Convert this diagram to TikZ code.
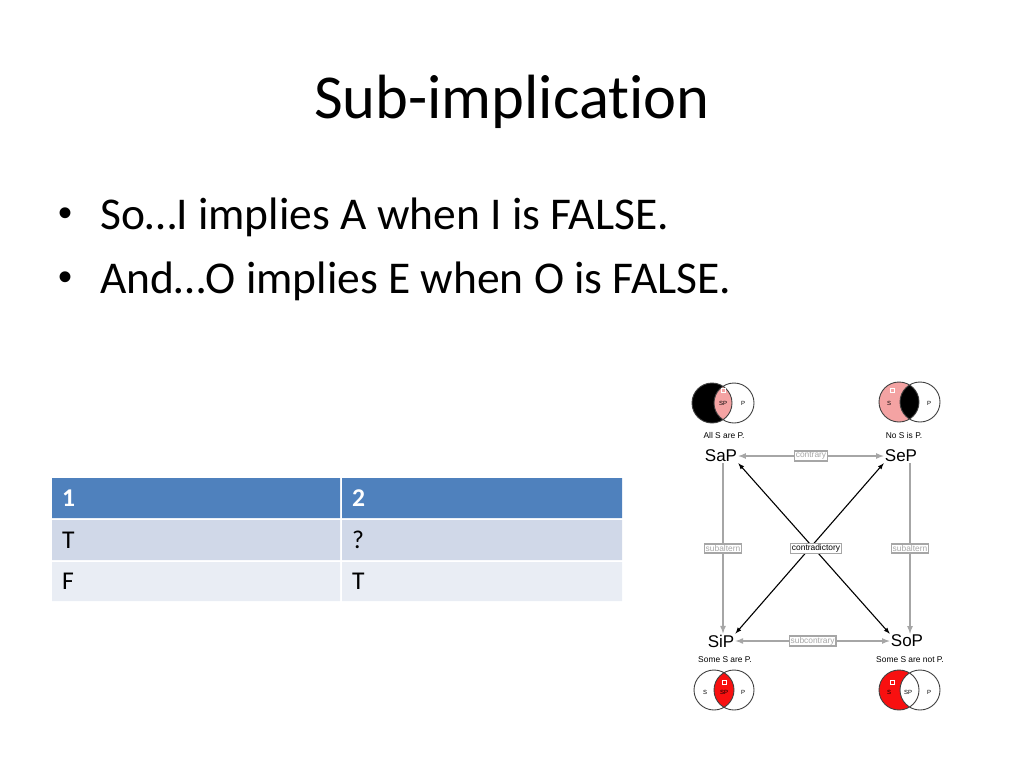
\documentclass[tikz,border=0pt]{standalone}
\usepackage{fontspec}
\setmainfont{Carlito}[Ligatures=NoCommon]
\newfontfamily\arialf{Liberation Sans}
\usetikzlibrary{positioning}
\definecolor{hdblue}{HTML}{4F81BD}
\definecolor{rowa}{HTML}{D0D8E8}
\definecolor{rowb}{HTML}{E9EDF4}
\definecolor{vpink}{HTML}{F4A3A3}
\definecolor{vred}{HTML}{F81010}
\definecolor{relgray}{HTML}{A6A6A6}
\tikzset{
  stmt/.style={font=\arialf\fontsize{17}{19}\selectfont, inner sep=1pt},
  gloss/.style={font=\arialf\fontsize{8.4}{10}\selectfont, inner sep=0pt},
  rel/.style={draw=relgray, fill=white, font=\arialf\fontsize{8.4}{10}\selectfont, inner sep=1.3pt},
  vtxt/.style={font=\arialf\fontsize{6}{7}\selectfont, inner sep=0pt},
  vline/.style={line width=0.9pt, black!75},
  cell/.style={anchor=west, inner sep=0pt, font=\fontsize{25.6}{28}\selectfont},
  dot/.style={anchor=base west, inner sep=0pt, font=\arialf\fontsize{40}{44}\selectfont}
}
\begin{document}
\begin{tikzpicture}[x=1pt,y=-1pt,>=latex]
\useasboundingbox (0,0) rectangle (1024,768);
% title and bullets
\node[anchor=base] (title) at (512,118) {\fontsize{62.5}{70}\selectfont Sub-implication};
\node[dot] (d1) at (58,226) {•};
\node[anchor=base west, inner sep=0pt] (b1) at (100,229) {\fontsize{45.5}{52}\selectfont So…I implies A when I is FALSE.};
\node[dot] (d2) at (58,290) {•};
\node[anchor=base west, inner sep=0pt] (b2) at (100,293) {\fontsize{45.5}{52}\selectfont And…O implies E when O is FALSE.};

% table
\fill[hdblue] (52,478) rectangle (340,518) (342,478) rectangle (622,518);
\fill[rowa] (52,520) rectangle (340,560) (342,520) rectangle (622,560);
\fill[rowb] (52,562) rectangle (340,601) (342,562) rectangle (622,601);
\node[cell, text=white, font=\bfseries\fontsize{25.6}{28}\selectfont] (h1) at (62,498) {1};
\node[cell, text=white, font=\bfseries\fontsize{25.6}{28}\selectfont] (h2) at (352,498) {2};
\node[cell] (c11) at (62,540) {T};
\node[cell] (c12) at (352,540) {?};
\node[cell] (c21) at (62,581) {F};
\node[cell] (c22) at (352,581) {T};

% square of opposition
\node[stmt] (sap) at (721,456) {SaP};
\node[stmt] (sep) at (901,456) {SeP};
\node[stmt] (sip) at (721,641) {SiP};
\node[stmt] (sop) at (907,641) {SoP};
\node[gloss] at (724,435) {All S are P.};
\node[gloss] at (904,435) {No S is P.};
\node[gloss] at (725,660) {Some S are P.};
\node[gloss] at (910,660) {Some S are not P.};

\draw[<->, relgray, line width=1.6pt] (sap) -- (sep) node[midway, rel, text=relgray]{contrary};
\draw[<->, relgray, line width=1.6pt] (sip) -- (sop) node[midway, rel, text=relgray]{subcontrary};
\draw[->, relgray, line width=1.6pt] ([xshift=2pt]sap.south) -- ([xshift=2pt]sap.south |- sip.north) node[midway, rel, text=relgray]{subaltern};
\draw[->, relgray, line width=1.6pt] ([xshift=9pt]sep.south) -- ([xshift=9pt]sep.south |- sop.north) node[midway, rel, text=relgray]{subaltern};
\draw[<->, line width=1.1pt] (sap.south east) -- (sop.north west);
\draw[<->, line width=1.1pt] (sep.south west) -- (sip.north east);
\node[rel] (contra) at (816,548) {contradictory};

% venn SaP
\fill (712,403) circle (20pt);
\begin{scope}
  \clip (712,403) circle (20pt);
  \fill[vpink] (734,403) circle (20pt);
\end{scope}
\draw[vline] (712,403) circle (20pt) (734,403) circle (20pt);
\node[vtxt] at (723,403) {SP};
\node[vtxt] at (743,403) {P};
\draw[white, line width=0.4pt] (721.5,388.5) rectangle (725.5,392.5);
% venn SeP
\fill[vpink] (899,402) circle (20pt);
\begin{scope}
  \clip (899,402) circle (20pt);
  \fill (920,402) circle (20pt);
\end{scope}
\draw[vline] (899,402) circle (20pt) (920,402) circle (20pt);
\node[vtxt] at (889,403) {S};
\node[vtxt] at (929,403) {P};
\draw[white, line width=0.4pt] (890,388) rectangle (894,392);
% venn SiP
\begin{scope}
  \clip (714,690) circle (20pt);
  \fill[vred] (734,690) circle (20pt);
\end{scope}
\draw[vline] (714,690) circle (20pt) (734,690) circle (20pt);
\node[vtxt] at (705,692) {S};
\node[vtxt] at (724,692) {SP};
\node[vtxt] at (743,692) {P};
\draw[white, line width=0.4pt] (722,680) rectangle (726,684);
% venn SoP
\fill[vred] (899,690) circle (20pt);
\begin{scope}
  \clip (899,690) circle (20pt);
  \fill[white] (920,690) circle (20pt);
\end{scope}
\draw[vline] (899,690) circle (20pt) (920,690) circle (20pt);
\node[vtxt] at (889,692) {S};
\node[vtxt] at (908,692) {SP};
\node[vtxt] at (929,692) {P};
\draw[white, line width=0.4pt] (890,680) rectangle (894,684);
\end{tikzpicture}
\end{document}
